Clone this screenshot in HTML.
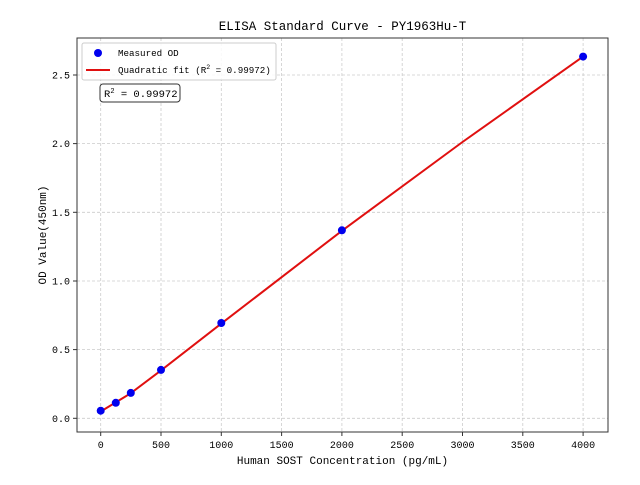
<!DOCTYPE html><html><head><style>body{margin:0;background:#fff}svg text{font-family:"Liberation Mono",monospace;fill:#000}</style></head><body>
<svg width="640" height="480" xmlns="http://www.w3.org/2000/svg">
<rect width="640" height="480" fill="#fff"/>
<g stroke="#ccc" stroke-width="0.8" stroke-dasharray="3,2">
<line x1="100.7" y1="38" x2="100.7" y2="432"/><line x1="161" y1="38" x2="161" y2="432"/><line x1="221.3" y1="38" x2="221.3" y2="432"/><line x1="281.6" y1="38" x2="281.6" y2="432"/><line x1="341.9" y1="38" x2="341.9" y2="432"/><line x1="402.2" y1="38" x2="402.2" y2="432"/><line x1="462.5" y1="38" x2="462.5" y2="432"/><line x1="522.8" y1="38" x2="522.8" y2="432"/><line x1="583.1" y1="38" x2="583.1" y2="432"/>
<line x1="77" y1="418.3" x2="608" y2="418.3"/><line x1="77" y1="349.6" x2="608" y2="349.6"/><line x1="77" y1="281" x2="608" y2="281"/><line x1="77" y1="212.3" x2="608" y2="212.3"/><line x1="77" y1="143.6" x2="608" y2="143.6"/><line x1="77" y1="75" x2="608" y2="75"/>
</g>
<polyline fill="none" stroke="#e01010" stroke-width="2" points="100.7,411.5 130.8,393.2 161,370.4 221.3,323.6 341.9,230.8 462.5,142 583.1,56.6"/>
<g fill="#0000ee"><circle cx="100.7" cy="410.7" r="4"/><circle cx="115.8" cy="402.8" r="4"/><circle cx="130.8" cy="392.9" r="4"/><circle cx="161" cy="369.9" r="4"/><circle cx="221.3" cy="323" r="4"/><circle cx="341.9" cy="230.3" r="4"/><circle cx="583.1" cy="56.6" r="4"/></g>
<rect x="77" y="38" width="531" height="394" fill="none" stroke="#333" stroke-width="1"/>
<g stroke="#333"><line x1="100.7" y1="432" x2="100.7" y2="436"/><line x1="161" y1="432" x2="161" y2="436"/><line x1="221.3" y1="432" x2="221.3" y2="436"/><line x1="281.6" y1="432" x2="281.6" y2="436"/><line x1="341.9" y1="432" x2="341.9" y2="436"/><line x1="402.2" y1="432" x2="402.2" y2="436"/><line x1="462.5" y1="432" x2="462.5" y2="436"/><line x1="522.8" y1="432" x2="522.8" y2="436"/><line x1="583.1" y1="432" x2="583.1" y2="436"/>
<line x1="73" y1="418.3" x2="77" y2="418.3"/><line x1="73" y1="349.6" x2="77" y2="349.6"/><line x1="73" y1="281" x2="77" y2="281"/><line x1="73" y1="212.3" x2="77" y2="212.3"/><line x1="73" y1="143.6" x2="77" y2="143.6"/><line x1="73" y1="75" x2="77" y2="75"/></g>
<g font-size="10" text-anchor="middle"><text x="100.7" y="448">0</text><text x="161" y="448">500</text><text x="221.3" y="448">1000</text><text x="281.6" y="448">1500</text><text x="341.9" y="448">2000</text><text x="402.2" y="448">2500</text><text x="462.5" y="448">3000</text><text x="522.8" y="448">3500</text><text x="583.1" y="448">4000</text></g>
<g font-size="10" text-anchor="end"><text x="70" y="422">0.0</text><text x="70" y="353">0.5</text><text x="70" y="284.5">1.0</text><text x="70" y="216">1.5</text><text x="70" y="147">2.0</text><text x="70" y="78.5">2.5</text></g>
<text x="342.5" y="464" font-size="11" text-anchor="middle">Human SOST Concentration (pg/mL)</text>
<text transform="translate(46,235) rotate(-90)" font-size="11" text-anchor="middle">OD Value(450nm)</text>
<text x="342.5" y="30" font-size="12.5" text-anchor="middle">ELISA Standard Curve - PY1963Hu-T</text>
<rect x="82" y="43" width="194" height="37" rx="2" fill="#fff" fill-opacity="0.85" stroke="#ccc"/>
<circle cx="98" cy="53" r="4" fill="#0000ee"/>
<line x1="86" y1="70" x2="110" y2="70" stroke="#e01010" stroke-width="2"/>
<g font-size="9.2"><text x="118" y="56">Measured OD</text><text x="118" y="73">Quadratic fit (R<tspan dy="-4" font-size="6.5">2</tspan><tspan dy="4"> = 0.99972)</tspan></text></g>
<rect x="100" y="84" width="80" height="18" rx="3" fill="#fff" stroke="#333"/>
<text x="104" y="97" font-size="10.5">R<tspan dy="-4" font-size="7">2</tspan><tspan dy="4"> = 0.99972</tspan></text>
</svg></body></html>
